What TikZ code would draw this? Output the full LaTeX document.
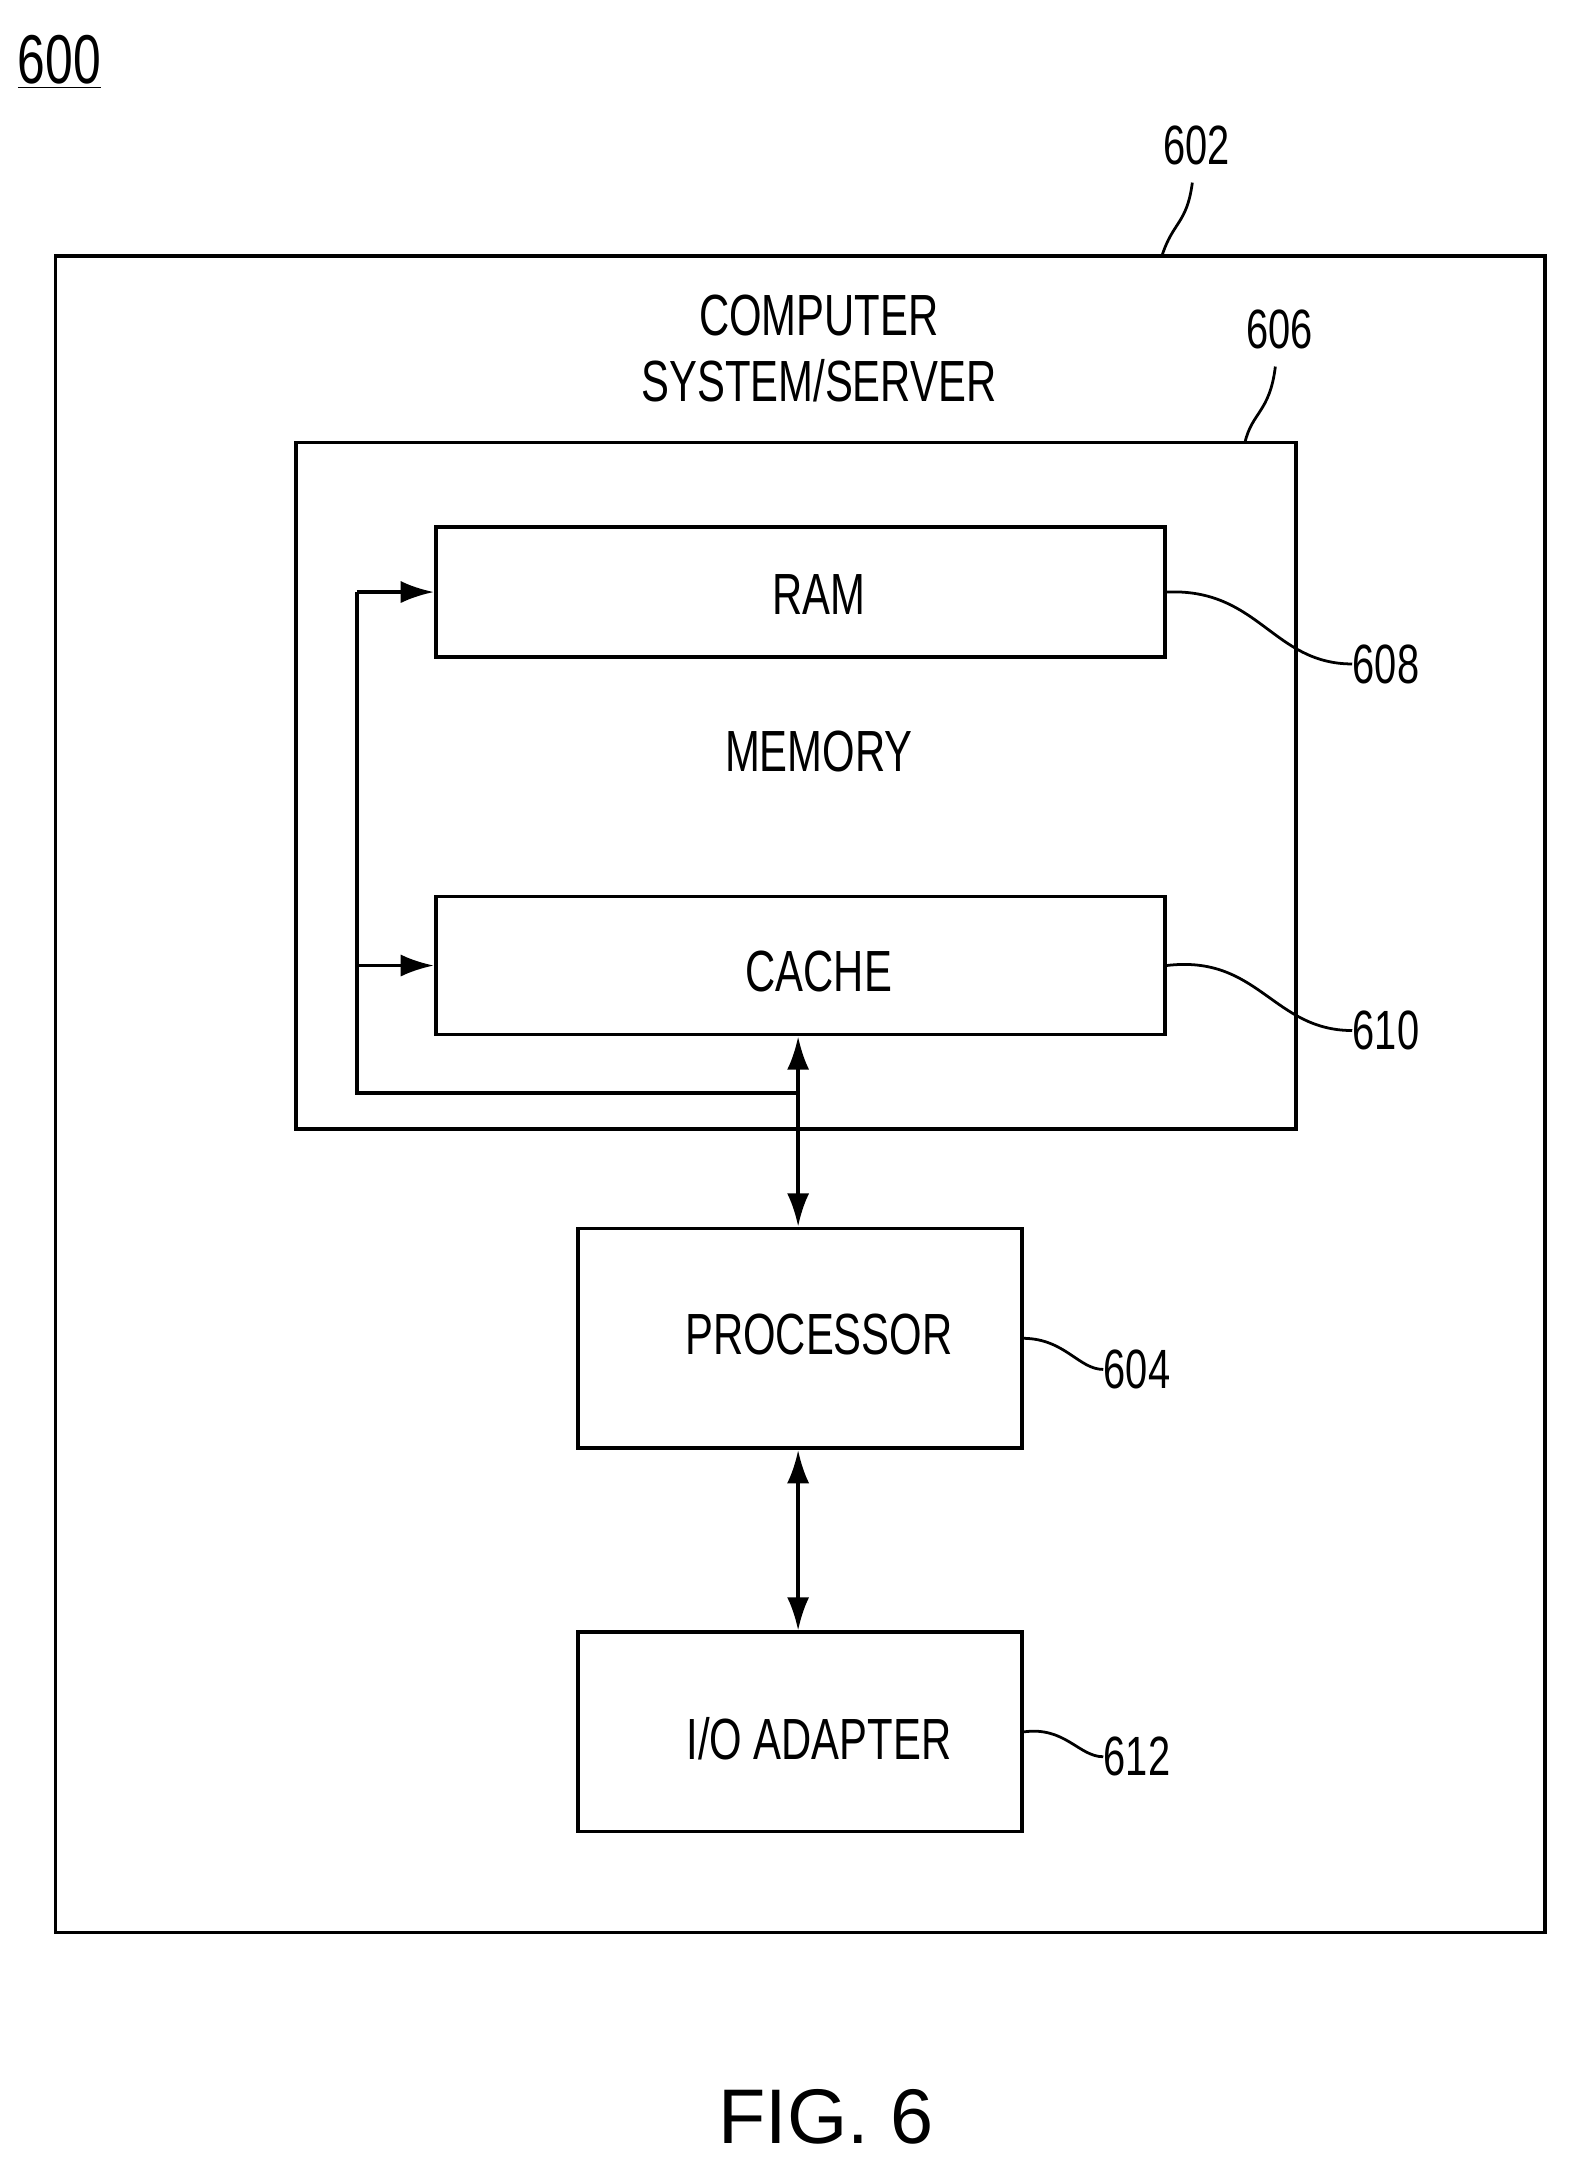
\documentclass[tikz,border=0pt]{standalone}
\usepackage{fontspec}
\setmainfont{Liberation Sans}
\newfontfamily\cond[FakeStretch=0.72]{Liberation Sans}
\usetikzlibrary{arrows.meta}
\begin{document}
\begin{tikzpicture}[x=0.5pt,y=-0.5pt,
  box/.style={draw,line width=1.3pt},
  lab/.style={font=\cond\fontsize{21}{24}\selectfont,inner sep=0pt},
  num/.style={font=\cond\fontsize{20}{22}\selectfont,inner sep=0pt},
  lead/.style={line width=1pt},
  arr/.style={line width=1.3pt,-{Latex[length=12pt,width=8pt]}},
  darr/.style={line width=1.3pt,{Latex[length=12pt,width=8pt]}-{Latex[length=12pt,width=8pt]}}]
\useasboundingbox (0,0) rectangle (1140,1576);
\node[font=\cond\fontsize{25}{28}\selectfont,inner sep=0pt] (n600) at (43,45) {\underline{600}};
\draw[box] (40,185) rectangle (1117,1397);
\node[num] (n602) at (865,105) {602};
\coordinate (l602) at (840,185);
\draw[lead] (l602) .. controls (848,160) and (858,162) .. (862,132);
\node[lab,align=center] (cs) at (592,252) {COMPUTER\\SYSTEM/SERVER};
\draw[box] (214,320) rectangle (937,816);
\node[num] (n606) at (925,238) {606};
\draw[lead] (900,320) .. controls (905,298) and (918,298) .. (922,265);
\node[box,minimum width=263.5pt,minimum height=47pt] (ram) at (578.5,428) {};
\node[lab] (ramt) at (592,430) {RAM};
\node[num] (n608) at (1002,480) {608};
\draw[lead] (ram.east) .. controls (910,425) and (920,480) .. (n608.west);
\node[lab] (mem) at (592,543) {MEMORY};
\node[box,minimum width=263.5pt,minimum height=50pt] (cache) at (578.5,698) {};
\node[lab] (cachet) at (592,702) {CACHE};
\node[num] (n610) at (1002,745) {610};
\draw[lead] (cache.east) .. controls (910,690) and (920,745) .. (n610.west);
\coordinate (j) at (577,790);
\draw[line width=1.3pt] (j) -- (258,790) -- (258,428);
\draw[arr] (258,428) -- (ram.west);
\draw[arr] (258,698) -- (cache.west);
\node[box,minimum width=160.5pt,minimum height=79.5pt] (proc) at (578.5,967.5) {};
\node[lab] (proct) at (592,965) {PROCESSOR};
\node[num] (n604) at (822,990) {604};
\draw[lead] (proc.east) .. controls (770,968) and (780,990) .. (n604.west);
\draw[darr] (cache.south -| j) -- (proc.north -| j);
\node[box,minimum width=160.5pt,minimum height=72pt] (io) at (578.5,1252) {};
\node[lab] (iot) at (592,1257) {I/O ADAPTER};
\node[num] (n612) at (822,1270) {612};
\draw[lead] (io.east) .. controls (770,1248) and (780,1270) .. (n612.west);
\draw[darr] (proc.south -| j) -- (io.north -| j);
\node[font=\fontsize{28}{32}\selectfont] (fig) at (597,1530) {FIG. 6};
\end{tikzpicture}
\end{document}
